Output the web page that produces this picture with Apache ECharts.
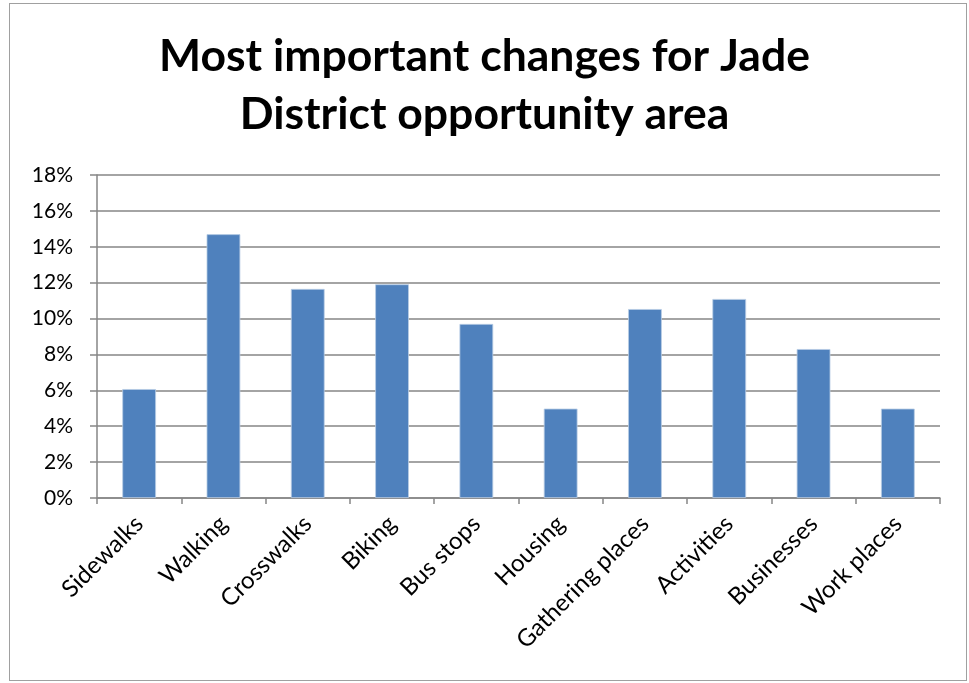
<!DOCTYPE html>
<html>
<head>
<meta charset="utf-8">
<script src="https://cdn.jsdelivr.net/npm/echarts@6/dist/echarts.min.js"></script>
<style>
html,body{margin:0;padding:0;background:#fff;}
#frame{position:absolute;left:9px;top:3px;width:958px;height:678px;border:1px solid #a0a0a0;box-sizing:border-box;}
#chart{position:absolute;left:0;top:0;width:969px;height:683px;}
</style>
</head>
<body>
<div id="frame"></div>
<div id="chart"></div>
<script>
const titleText = "Most important changes for Jade\nDistrict opportunity area";
const categories = ["Sidewalks","Walking","Crosswalks","Biking","Bus stops","Housing","Gathering places","Activities","Businesses","Work places"];
const values = [6.07, 14.7, 11.65, 11.91, 9.7, 4.98, 10.53, 11.09, 8.3, 4.98];
const yTicks = {min: 0, max: 18, interval: 2};

const chart = echarts.init(document.getElementById('chart'), null, {renderer: 'canvas'});
chart.setOption({
  animation: false,
  backgroundColor: 'transparent',
  title: {
    text: titleText,
    left: 'center',
    top: 23,
    textStyle: {fontFamily: 'Lato', fontWeight: 'bold', fontSize: 44.5, lineHeight: 58, color: '#000'}
  },
  grid: {left: 97, right: 29, top: 175, bottom: 185, containLabel: false},
  xAxis: {
    type: 'category',
    data: categories,
    axisLine: {lineStyle: {color: '#868686', width: 1.5}},
    axisTick: {show: true, length: 6, lineStyle: {color: '#868686', width: 1.5}},
    axisLabel: {rotate: 45, interval: 0, margin: 22, fontFamily: 'Lato', fontSize: 24, color: '#000'}
  },
  yAxis: {
    type: 'value',
    min: yTicks.min, max: yTicks.max, interval: yTicks.interval,
    axisLine: {show: true, lineStyle: {color: '#868686', width: 1.5}},
    axisTick: {show: true, length: 7, lineStyle: {color: '#868686', width: 1.5}},
    splitLine: {show: true, lineStyle: {color: '#868686', width: 1.5}},
    axisLabel: {formatter: '{value}%', margin: 24, fontFamily: 'Lato', fontSize: 21, color: '#000'}
  },
  series: [{
    type: 'bar',
    data: values,
    barWidth: '40%',
    itemStyle: {color: '#4F81BD', borderColor: '#B9CDE5', borderWidth: 0.8}
  }]
});
</script>
</body>
</html>
